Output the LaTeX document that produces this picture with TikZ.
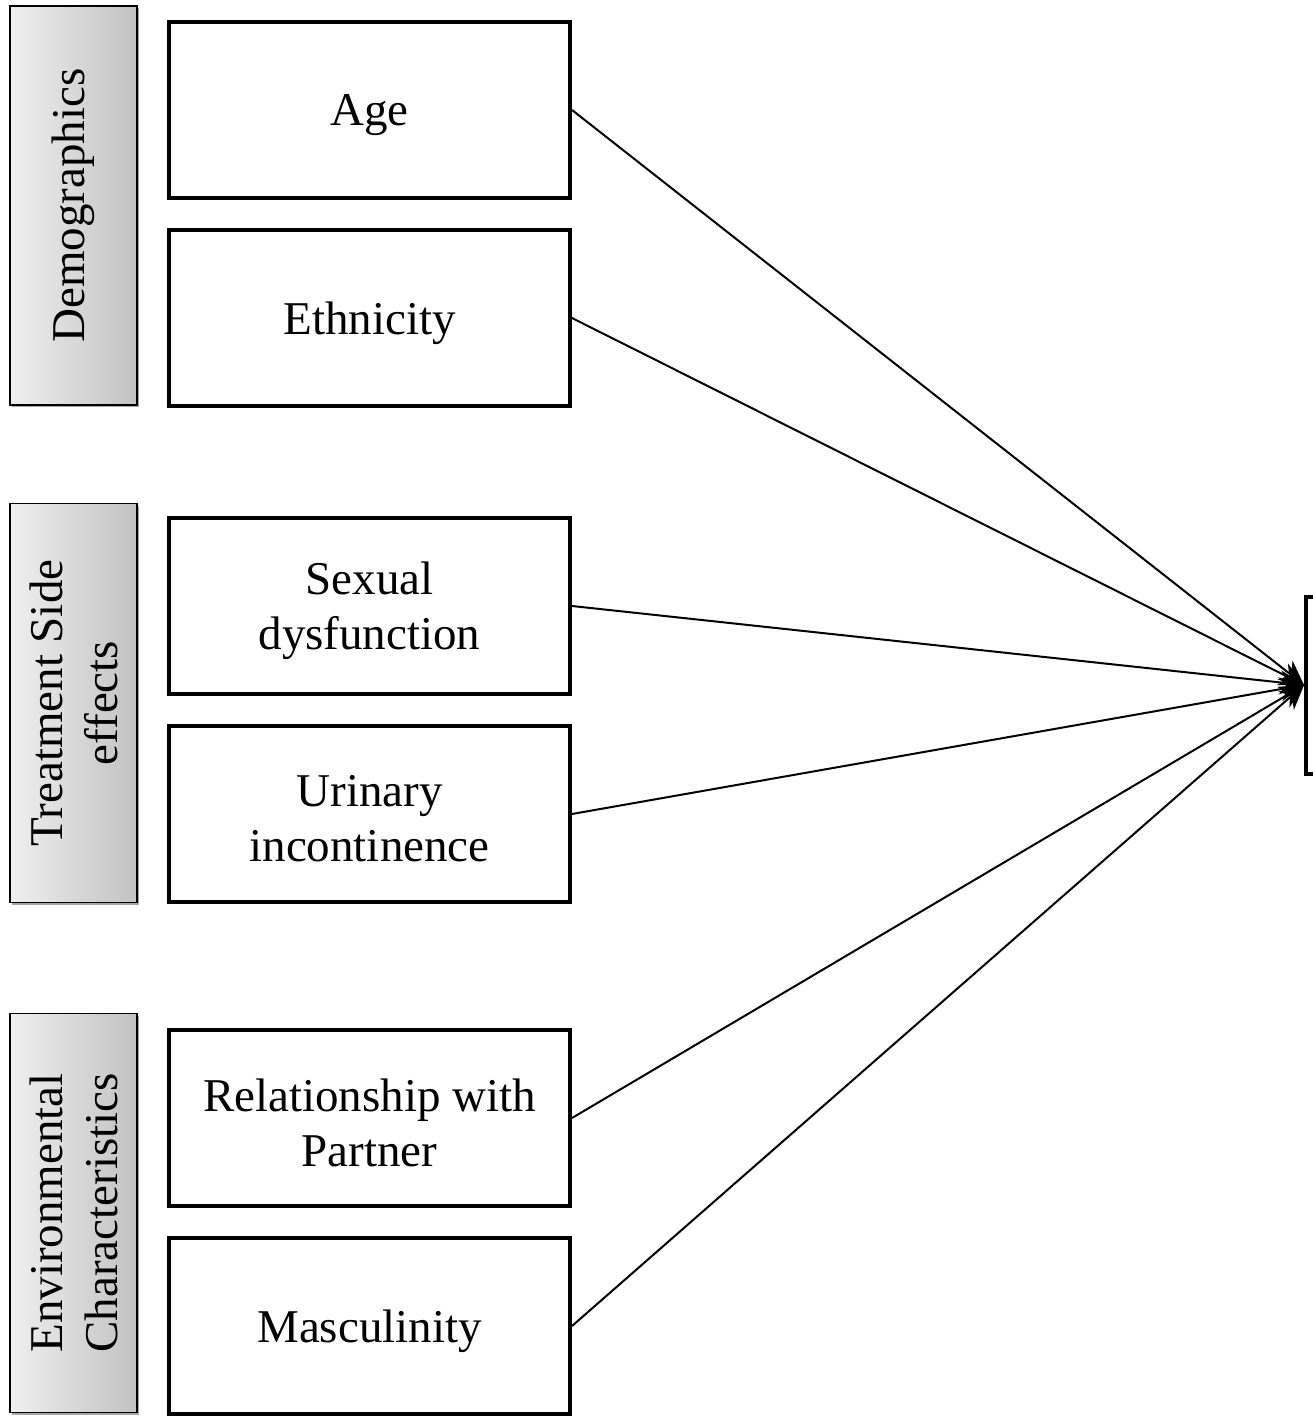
\documentclass[tikz,border=0pt]{standalone}
\usepackage{fontspec}
\setmainfont{Liberation Serif}
\usetikzlibrary{arrows.meta,shadows}
\begin{document}
\begin{tikzpicture}[x=0.5pt,y=-0.5pt,
  catbox/.style={draw=black,line width=0.8pt,left color=black!6,right color=black!24,
    minimum width=63.5pt,minimum height=199.5pt,inner sep=0pt,
    drop shadow={shadow xshift=1.2pt,shadow yshift=-1.2pt,opacity=0.35,fill=black}},
  cattext/.style={rotate=90,align=center,inner sep=0pt,font=\fontsize{23.5}{27.5}\selectfont},
  varbox/.style={draw=black,line width=2pt,fill=white,minimum width=200.5pt,minimum height=88pt,
    inner sep=0pt},
  vartext/.style={align=center,inner sep=0pt,yshift=-2.5pt,font=\fontsize{23.5}{27.5}\selectfont},
  link/.style={line width=1pt,-{Stealth[length=12pt,width=12pt]}}
]
\useasboundingbox (0,0) rectangle (1312,1416);
\fill[white] (0,0) rectangle (1312,1416);

% category boxes
\node[catbox] (demo) at (73.5,205.5) {};
\node[cattext] (demot) at (demo.center) {Demographics};
\node[catbox] (treat) at (73.5,703) {};
\node[cattext] (treatt) at (treat.center) {Treatment Side\\effects};
\node[catbox] (env) at (73.5,1213) {};
\node[cattext] (envt) at (env.center) {Environmental\\Characteristics};

% variable boxes
\node[varbox] (age) at (369.5,110) {};
\node[vartext] (aget) at (age.center) {Age};
\node[varbox] (eth) at (369.5,318) {};
\node[vartext] (etht) at (eth.center) {Ethnicity};
\node[varbox] (sex) at (369.5,606) {};
\node[vartext] (sext) at (sex.center) {Sexual\\dysfunction};
\node[varbox] (uri) at (369.5,814) {};
\node[vartext] (urit) at (uri.center) {Urinary\\incontinence};
\node[varbox] (rel) at (369.5,1118) {};
\node[vartext] (relt) at (rel.center) {Relationship with\\Partner};
\node[varbox] (mas) at (369.5,1326) {};
\node[vartext] (mast) at (mas.center) {Masculinity};

% outcome box (cut off at right edge)
\node[draw=black,line width=2pt,fill=white,minimum width=60pt,minimum height=88.5pt,inner sep=0pt] (out) at (1366,685) {};

% connectors
\foreach \n in {age,eth,sex,uri,rel,mas}
  \draw[link] (\n.east) -- (out.west);
\end{tikzpicture}
\end{document}
